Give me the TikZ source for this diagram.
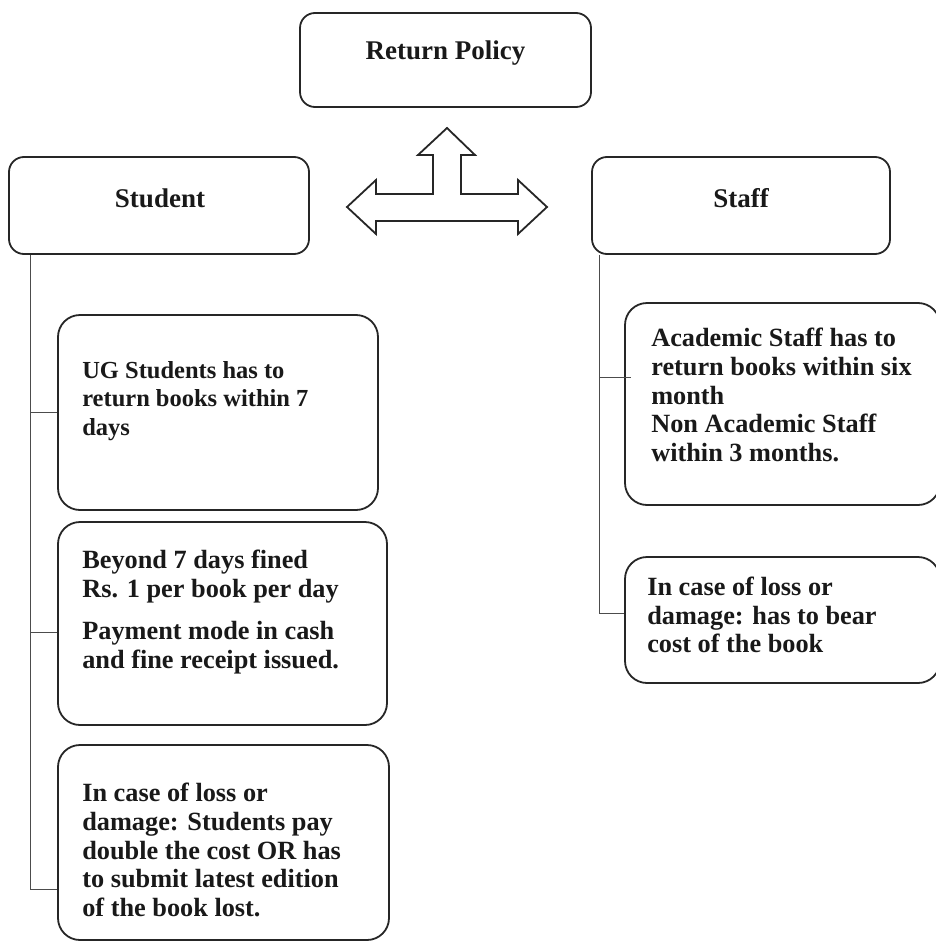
\documentclass[tikz,border=0pt]{standalone}
\usepackage{fontspec}
\setmainfont{Liberation Serif}
\usepackage{xcolor}
\usepackage{tikz}
\usetikzlibrary{positioning,calc}

\begin{document}
\begin{tikzpicture}[x=1pt,y=-1pt,
    box/.style={draw=black!85, line width=1.8pt, rounded corners=22pt, inner sep=0pt},
    headbox/.style={box, rounded corners=15pt},
    txt/.style={inner sep=0pt, align=left, anchor=west, text=black!90, font=\fontsize{26.3}{28.8}\selectfont\bfseries},
    headtxt/.style={inner sep=0pt, text=black!90, font=\fontsize{27}{30}\selectfont\bfseries},
    link/.style={draw=black!70, line width=1pt}]
    \useasboundingbox (0,0) rectangle (936,942);
    \clip (0,0) rectangle (936,942);

    % Top level boxes
    \node[headbox, minimum width=291pt, minimum height=94pt] (policy) at (445.5,60) {};
    \node[headtxt] (policyText) at ($(policy.center)+(0,-7)$) {Return Policy};
    \node[headbox, minimum width=300pt, minimum height=97pt] (student) at (159,205.5) {};
    \node[headtxt] (studentText) at ($(student.center)+(1,-7)$) {Student};
    \node[headbox, minimum width=298pt, minimum height=97pt] (staff) at (741,205.5) {};
    \node[headtxt] (staffText) at ($(staff.center)+(0,-7)$) {Staff};

    % Three way arrow
    \draw[draw=black!85, line width=1.8pt, fill=white, line join=miter]
        (447,128) -- (475,155) -- (461,155) -- (461,194) -- (518,194) -- (518,180)
        -- (547,207) -- (518,234) -- (518,221) -- (376,221) -- (376,234) -- (347,207)
        -- (376,180) -- (376,194) -- (433,194) -- (433,155) -- (418,155) -- cycle;

    % Student rules
    \node[box, minimum width=320pt, minimum height=195pt] (ug) at (218,412.5) {};
    \node[txt, font=\fontsize{24.5}{28.5}\selectfont\bfseries] (ugText) at ($(ug.west)+(25,-11.5)$) {UG Students has to\\return books within 7\\days};
    \node[box, minimum width=329pt, minimum height=203pt] (beyond) at (222.5,623.5) {};
    \node[txt] (beyondText) at ($(beyond.west)+(25,-11.5)$) {Beyond 7 days fined\\Rs. 1 per book per day\\[14pt]Payment mode in cash\\and fine receipt issued.};
    \node[box, minimum width=331pt, minimum height=195pt] (lossS) at (223.5,842.5) {};
    \node[txt] (lossSText) at ($(lossS.west)+(25,7.5)$) {In case of loss or\\damage: Students pay\\double the cost OR has\\to submit latest edition\\of the book lost.};

    % Staff rules
    \node[box, minimum width=315pt, minimum height=202pt] (acad) at (782.5,404) {};
    \node[txt] (acadText) at ($(acad.west)+(27,-9)$) {Academic Staff has to\\return books within six\\month\\Non Academic Staff\\within 3 months.};
    \node[box, minimum width=315pt, minimum height=126pt] (lossT) at (782.5,620) {};
    \node[txt] (lossTText) at ($(lossT.west)+(23,-5)$) {In case of loss or\\damage: has to bear\\cost of the book};

    % Student tree
    \coordinate (beyondJoin) at ($(beyond.west)+(0,8.5)$);
    \coordinate (lossSJoin) at ($(lossS.west)+(0,46.5)$);
    \draw[link] ($(student.south west)+(22,0)$) coordinate (sTop) |- (lossSJoin);
    \draw[link] (sTop |- ug.west) -- (ug.west);
    \draw[link] (sTop |- beyondJoin) -- (beyondJoin);

    % Staff tree
    \coordinate (acadJoin) at ($(acad.west)+(7,-27)$);
    \coordinate (lossTJoin) at ($(lossT.west)+(0,-7)$);
    \draw[link] ($(staff.south west)+(8,0)$) coordinate (tTop) |- (lossTJoin);
    \draw[link] (tTop |- acadJoin) -- (acadJoin);
\end{tikzpicture}
\end{document}
